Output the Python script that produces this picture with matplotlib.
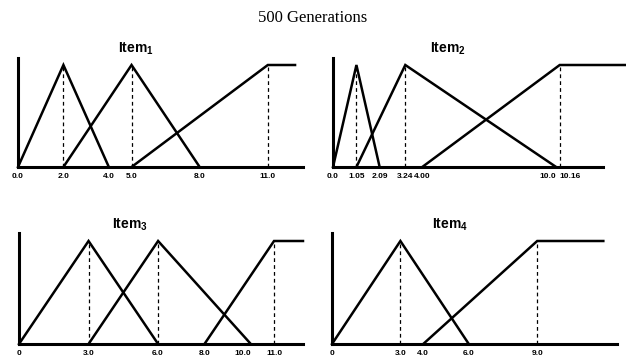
import matplotlib
matplotlib.use("Agg")
import matplotlib.pyplot as plt

plt.rcParams['font.family'] = ['Liberation Sans', 'DejaVu Sans']
plt.rcParams['mathtext.fontset'] = 'custom'
plt.rcParams['mathtext.rm'] = 'Liberation Sans'
plt.rcParams['mathtext.bf'] = 'Liberation Sans:bold'

# membership functions per item: (start, peak, end); end=None means open-ended (plateau)
item1_sets = [(0.0, 2.0, 4.0), (2.0, 5.0, 8.0), (5.0, 11.0, None)]
item2_sets = [(0.0, 1.05, 2.09), (1.05, 3.24, 10.0), (4.00, 10.16, None)]
item3_sets = [(0.0, 3.0, 6.0), (3.0, 6.0, 10.0), (8.0, 11.0, None)]
item4_sets = [(0.0, 3.0, 6.0), (4.0, 9.0, None)]

# where the open-ended plateau stops being drawn
plateau_end = [12.2, 13.1, 12.25, 11.9]

item1_ticks = [0.0, 2.0, 4.0, 5.0, 8.0, 11.0]
item1_labels = ['0.0', '2.0', '4.0', '5.0', '8.0', '11.0']
item2_ticks = [0.0, 1.05, 2.09, 3.24, 4.00, 10.0, 10.16]
item2_labels = ['0.0', '1.05', '2.09', '3.24', '4.00', '10.0', '10.16']
item3_ticks = [0.0, 3.0, 6.0, 8.0, 10.0, 11.0]
item3_labels = ['0', '3.0', '6.0', '8.0', '10.0', '11.0']
item4_ticks = [0.0, 3.0, 4.0, 6.0, 9.0]
item4_labels = ['0', '3.0', '4.0', '6.0', '9.0']

titles = [r'$\mathbf{Item_1}$', r'$\mathbf{Item_2}$',
          r'$\mathbf{Item_3}$', r'$\mathbf{Item_4}$']

# labels that sit too close together get pushed to one side
label_align = {'10.0': 'right', '10.16': 'left'}

W, H = 626, 356
fig = plt.figure(figsize=(W / 100, H / 100), dpi=100)

# panel layout in pixels: left, right, baseline, top, xmax, peak height px, title x, title pad, tick pad
panels = [
    dict(left=18, right=303, base=167, top=58, xmax=12.55, peak=102, tx=0.414, tpad=4.0, lpad=4.5),
    dict(left=333, right=603, base=167, top=58, xmax=12.1, peak=102, tx=0.426, tpad=4.0, lpad=4.0),
    dict(left=19, right=303, base=344, top=233, xmax=12.25, peak=103, tx=0.39, tpad=2.0, lpad=4.0),
    dict(left=332, right=617, base=344, top=233, xmax=12.5, peak=103, tx=0.414, tpad=2.0, lpad=4.0),
]

all_sets = [item1_sets, item2_sets, item3_sets, item4_sets]
all_ticks = [item1_ticks, item2_ticks, item3_ticks, item4_ticks]
all_labels = [item1_labels, item2_labels, item3_labels, item4_labels]

for i, p in enumerate(panels):
    ax = fig.add_axes([p['left'] / W, 1 - p['base'] / H,
                       (p['right'] - p['left']) / W, (p['base'] - p['top']) / H])
    ymax = (p['base'] - p['top']) / p['peak']

    for a, b, c in all_sets[i]:
        if c is None:
            xs, ys = [a, b, plateau_end[i]], [0, 1, 1]
        else:
            xs, ys = [a, b, c], [0, 1, 0]
        ax.plot(xs, ys, color='black', lw=1.8, clip_on=False, solid_joinstyle='miter')
        ax.plot([b, b], [0, 1], color='black', lw=0.9, ls=(0, (3, 2.5)), clip_on=False)

    ax.set_xlim(0, p['xmax'])
    ax.set_ylim(0, ymax)
    for s in ['top', 'right']:
        ax.spines[s].set_visible(False)
    for s in ['left', 'bottom']:
        ax.spines[s].set_linewidth(2.2)
    ax.set_yticks([])
    ax.set_xticks(all_ticks[i])
    ax.set_xticklabels(all_labels[i], fontsize=6, fontweight='bold')
    for t in ax.get_xticklabels():
        if t.get_text() in label_align:
            t.set_ha(label_align[t.get_text()])
    ax.tick_params(axis='x', length=0, pad=p['lpad'])
    ax.set_facecolor('none')
    ax.set_title(titles[i], fontsize=10, x=p['tx'], pad=p['tpad'])

fig.text(0.5, 1 - 22 / H, '500 Generations', ha='center', va='baseline',
         family='Liberation Serif', fontsize=12)

fig.savefig('out.png', dpi=100)
